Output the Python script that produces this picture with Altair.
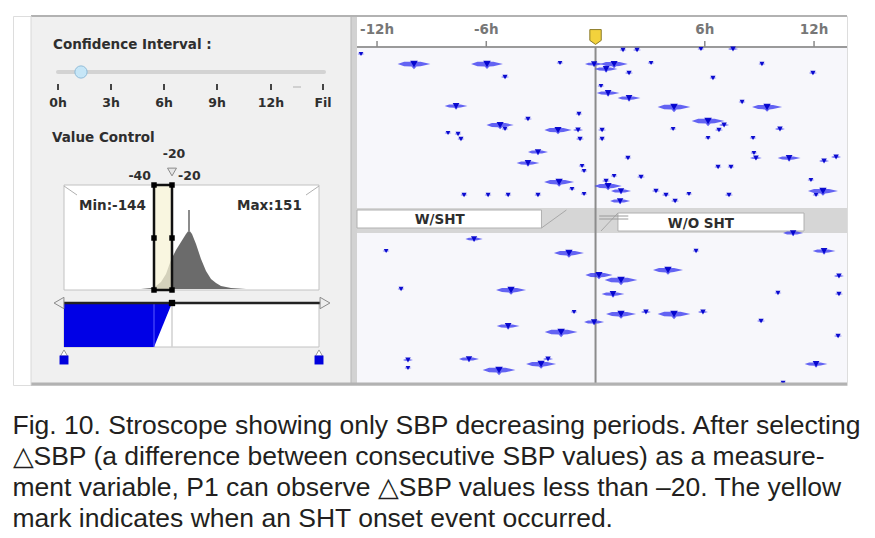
import altair as alt
import pandas as pd

# ---------------- data ----------------
# Stroscope glyphs: hour offset from SHT onset, lane position (px from top), glyph width (hours)
GLYPH_HOUR = [
    -9.97, -5.96, -4.97, -1.95, -0.08, -7.66, -0.91, -3.71, -5.24, -4.97,
    -2.06, -0.96, 0.36, -8.10, -7.55, -7.39, -0.85, 0.36, -3.16, -3.71,
    -0.74, -0.63, -2.00, -1.29, -0.63, -7.22, -5.90, -4.80, -3.16, -12.88,
    1.51, 2.28, 7.55, 5.79, 1.02, 0.58, 3.05, 1.84, 9.14, 11.94,
    6.45, 0.30, 0.69, 1.84, 8.05, 4.31, 9.42, 6.18, 7.06, 6.78,
    4.26, 10.13, 6.18, 8.65, 8.70, 1.78, 8.81, 10.63, 12.55, 13.21,
    6.73, 7.44, 1.02, 0.58, 2.50, 0.69, 1.40, 3.32, 3.87, 4.37,
    1.35, 5.13, 7.33, 11.83, 12.49, 12.11,
    -6.67, -11.50, -1.46, 0.19, 1.40, 3.98, 5.52, 12.55, 10.85, 13.37,
    -10.68, -4.64, 0.96, 10.02, 13.37, -1.18, 1.40, 4.31, 5.90, 2.77,
    -0.08, 9.09, -4.80, -1.89, 13.32, -10.30, -10.30, -6.95, -2.99, -2.61,
    -5.30, 12.11, 10.30,
]
GLYPH_ROW = [
    62, 62, 75, 61, 62, 104, 112, 117, 123, 127,
    128, 128, 128, 131, 132, 137, 137, 137, 150, 161,
    164, 169, 180, 187, 192, 193, 193, 193, 193, 52,
    48, 48, 47, 47, 62, 67, 61, 71, 62, 71,
    76, 84, 91, 96, 100, 105, 105, 119, 123, 128,
    127, 127, 136, 136, 151, 156, 156, 156, 159, 155,
    165, 165, 174, 179, 175, 184, 189, 189, 193, 199,
    199, 192, 193, 178, 189, 193,
    237, 249, 251, 273, 278, 268, 249, 249, 231, 274,
    287, 288, 292, 291, 292, 310, 312, 312, 310, 310,
    320, 319, 324, 330, 334, 358, 366, 357, 362, 357,
    368, 362, 381,
]
GLYPH_WIDTH = [
    1.8, 1.75, 0.45, 0.2, 1.0, 1.25, 0.3, 0.45, 1.5, 0.2,
    1.5, 0.55, 0.45, 0.2, 0.35, 0.35, 0.45, 0.35, 1.1, 1.25,
    0.2, 0.2, 1.65, 0.2, 0.2, 0.4, 0.3, 0.3, 0.4, 0.2,
    0.35, 0.45, 0.55, 0.2, 1.5, 1.25, 0.2, 0.45, 0.3, 0.45,
    0.35, 0.2, 1.25, 1.25, 0.3, 1.8, 1.65, 1.8, 0.55, 0.45,
    0.2, 0.55, 0.2, 0.2, 0.2, 0.4, 0.65, 1.25, 0.55, 0.55,
    0.4, 0.4, 0.2, 0.45, 0.45, 1.5, 1.1, 0.45, 0.45, 0.45,
    1.1, 0.2, 0.45, 0.2, 1.65, 0.2,
    0.95, 0.2, 1.65, 1.5, 1.8, 1.65, 0.3, 1.25, 1.1, 0.55,
    0.3, 1.65, 1.25, 0.3, 0.45, 0.2, 1.65, 1.8, 0.55, 0.55,
    1.1, 0.45, 1.25, 1.8, 0.45, 0.55, 0.2, 1.1, 1.65, 0.55,
    1.8, 1.25, 0.3,
]

HOUR_TICKS = [-12, -6, 6, 12]
HOUR_TICK_LABELS = ["-12h", "-6h", "6h", "12h"]

CI_TICK_LABELS = ["0h", "3h", "6h", "9h", "12h", "Fil"]

# Value-control histogram outline (left panel units)
HIST_X = [63, 140, 150, 155, 160, 165, 170, 175, 180, 185, 188, 191, 195, 200, 205, 210, 215, 220, 230, 245, 318]
HIST_Y = [287, 287, 286, 284, 280, 272, 258, 248, 240, 232, 228, 232, 242, 257, 269, 277, 281, 284, 286, 287, 287]

CAPTION = [
    "Fig. 10. Stroscope showing only SBP decreasing periods. After selecting",
    "\u25b3SBP (a difference between consecutive SBP values) as a measure-",
    "ment variable, P1 can observe \u25b3SBP values less than \u201320. The yellow",
    "mark indicates when an SHT onset event occurred.",
]

# ---------------- helpers ----------------
UI_FONT = "DejaVu Sans"
H_DOM = [-13.10, 13.81]
LX = alt.Scale(domain=[12, 356], nice=False, zero=False)
LY = alt.Scale(domain=[14, 383], nice=False, zero=False, reverse=True)
RX = alt.Scale(domain=H_DOM, nice=False, zero=False)
RY = alt.Scale(domain=[14, 383], nice=False, zero=False, reverse=True)


def rect(rows, xs, ys, **kw):
    df = pd.DataFrame(rows, columns=["x1", "x2", "y1", "y2"])
    return alt.Chart(df).mark_rect(**kw).encode(
        x=alt.X("x1:Q", scale=xs, axis=None), x2="x2:Q",
        y=alt.Y("y1:Q", scale=ys, axis=None), y2="y2:Q")


def rule(rows, xs, ys, **kw):
    df = pd.DataFrame(rows, columns=["x1", "x2", "y1", "y2"])
    return alt.Chart(df).mark_rule(**kw).encode(
        x=alt.X("x1:Q", scale=xs, axis=None), x2="x2:Q",
        y=alt.Y("y1:Q", scale=ys, axis=None), y2="y2:Q")


def text(rows, xs, ys, **kw):
    df = pd.DataFrame(rows, columns=["x", "y", "label"])
    return alt.Chart(df).mark_text(**kw).encode(
        x=alt.X("x:Q", scale=xs, axis=None),
        y=alt.Y("y:Q", scale=ys, axis=None),
        text="label:N")


def point(rows, xs, ys, **kw):
    df = pd.DataFrame(rows, columns=["x", "y"])
    return alt.Chart(df).mark_point(**kw).encode(
        x=alt.X("x:Q", scale=xs, axis=None),
        y=alt.Y("y:Q", scale=ys, axis=None))


ui_txt = dict(font=UI_FONT, fontWeight="bold", fontSize=13.5, color="#2e2e2e", baseline="middle")
ui_sm = {**ui_txt, "fontSize": 12.5}

# ---------------- left control panel ----------------
ci_x = [57, 110, 163, 216, 270, 322]
hist_df = pd.DataFrame({"x": HIST_X, "y": HIST_Y, "base": [287] * len(HIST_X)})
blue_df = pd.DataFrame({"x": [63, 153, 171], "y": [301, 301, 301], "y2": [345, 345, 301]})

left_layers = [
    rect([(30, 350, 14, 383)], LX, LY, color="#f0f0f0"),
    rect([(350, 356, 14, 383)], LX, LY, color="#d2d2d2"),
    rule([(350, 350, 14, 383)], LX, LY, color="#b5b5b5", strokeWidth=1),
    text([(52, 43, "Confidence Interval :")], LX, LY, align="left", **ui_txt),
    rule([(57, 323, 70, 70)], LX, LY, color="#d3d3d3", strokeWidth=4, strokeCap="round"),
    point([(80, 70)], LX, LY, shape="circle", size=150, filled=True, fill="#c6e6f7",
          stroke="#8fbcd9", strokeWidth=1, opacity=1),
    rule([(x, x, 82, 88) for x in ci_x], LX, LY, color="#444444", strokeWidth=2),
    rule([(292, 300, 85, 85)], LX, LY, color="#b0b0b0", strokeWidth=1),
    text([(x, 101, l) for x, l in zip(ci_x, CI_TICK_LABELS)], LX, LY, align="center", **ui_sm),
    text([(51, 136, "Value Control")], LX, LY, align="left", **ui_txt),
    text([(173, 152, "-20")], LX, LY, align="center", **ui_sm),
    text([(150, 174, "-40")], LX, LY, align="right", **ui_sm),
    text([(177, 174, "-20")], LX, LY, align="left", **ui_sm),
    point([(171, 170)], LX, LY, shape="triangle-down", size=80, filled=True, fill="#e6e6e6",
          stroke="#8a8a8a", strokeWidth=1, opacity=1),
    rect([(63, 318, 183, 288)], LX, LY, fill="white", stroke="#c2c2c2", strokeWidth=1),
    rule([(63, 76, 184, 193), (318, 305, 184, 193)], LX, LY, color="#b0b0b0", strokeWidth=1),
    text([(78, 204, "Min:-144"), (236, 204, "Max:151")], LX, LY, align="left", **ui_txt),
    alt.Chart(hist_df).mark_area(color="#6b6b6b", orient="vertical").encode(
        x=alt.X("x:Q", scale=LX, axis=None),
        y=alt.Y("y:Q", scale=LY, axis=None), y2="base:Q"),
    rule([(188, 188, 208, 230)], LX, LY, color="#8c8c8c", strokeWidth=2),
    rect([(153, 171, 183, 288)], LX, LY, fill="#f7f3d6", fillOpacity=0.75, stroke="#111111",
         strokeWidth=2.5),
    point([(153, 183), (171, 183), (153, 236), (171, 236), (153, 288), (171, 288)], LX, LY,
          shape="square", size=30, filled=True, color="#000000", opacity=1),
    rect([(63, 318, 301, 345)], LX, LY, fill="white", stroke="#c2c2c2", strokeWidth=1),
    alt.Chart(blue_df).mark_area(color="#0000e6", orient="vertical").encode(
        x=alt.X("x:Q", scale=LX, axis=None),
        y=alt.Y("y:Q", scale=LY, axis=None), y2="y2:Q"),
    rule([(153, 153, 301, 345)], LX, LY, color="#5a5aff", strokeWidth=1),
    rule([(171, 171, 301, 345)], LX, LY, color="#d0d0d0", strokeWidth=1.5),
    rule([(60, 322, 301, 301)], LX, LY, color="#222222", strokeWidth=2.5),
    point([(58, 301)], LX, LY, shape="triangle-left", size=130, filled=True, fill="#eeeeee",
          stroke="#8a8a8a", strokeWidth=1, opacity=1),
    point([(324, 301)], LX, LY, shape="triangle-right", size=130, filled=True, fill="#eeeeee",
          stroke="#8a8a8a", strokeWidth=1, opacity=1),
    point([(171, 301)], LX, LY, shape="square", size=40, filled=True, color="#000000", opacity=1),
    point([(63, 351), (318, 351)], LX, LY, shape="triangle-up", size=50, filled=True,
          fill="#ffffff", stroke="#9a9a9a", strokeWidth=1, opacity=1),
    point([(63, 358), (318, 358)], LX, LY, shape="square", size=80, filled=True,
          color="#0000dd", opacity=1),
    rule([(30, 356, 382, 382)], LX, LY, color="#b2b2b2", strokeWidth=3),
    rule([(30, 356, 14, 14)], LX, LY, color="#b2b2b2", strokeWidth=2),
    rule([(30, 30, 14, 383)], LX, LY, color="#d8d8d8", strokeWidth=1),
]
left = alt.layer(*left_layers).properties(width=344, height=369)

# ---------------- right stroscope panel ----------------
a, b = H_DOM
px_per_hour = 490 / (b - a)
g = pd.DataFrame({"hour": GLYPH_HOUR, "row": GLYPH_ROW, "w": GLYPH_WIDTH})
g["outer"] = ((g["w"] * px_per_hour).clip(lower=7)) ** 2
g["inner"] = 18 + 22 * g["w"]

GLYPH_PATH = ("M-1,0 L-0.6,-0.14 L0.4,-0.14 L1,0 L0.4,0.14 L0.15,0.16 L0,0.32 "
              "L-0.15,0.16 L-0.6,0.14 Z")
MARKER_PATH = "M-1,-1.3 L1,-1.3 L1,0.6 L0,1.3 L-1,0.6 Z"

right_layers = [
    rect([(a, b, 45, 383)], RX, RY, color="#f7f7fb"),
    rect([(a, b, 14, 45)], RX, RY, color="#ffffff"),
    rule([(a, b, 45, 45)], RX, RY, color="#9a9a9a", strokeWidth=2),
    rule([(h, h, 39, 45) for h in HOUR_TICKS], RX, RY, color="#8a8a8a", strokeWidth=1.5),
    text([(h, 28, l) for h, l in zip(HOUR_TICKS, HOUR_TICK_LABELS)], RX, RY, align="center",
         **{**ui_txt, "color": "#777777"}),
    rect([(a, b, 206, 231)], RX, RY, color="#d6d6d6"),
    rect([(a, -2.97, 208, 226)], RX, RY, fill="#ffffff", stroke="#b0b0b0", strokeWidth=1),
    rect([(1.23, 11.45, 211, 229)], RX, RY, fill="#ffffff", stroke="#b0b0b0", strokeWidth=1),
    rule([(-2.97, -1.6, 226, 208), (0.3, 1.23, 229, 211)], RX, RY, color="#a8a8a8", strokeWidth=1),
    rule([(0.2, 1.8, 214, 214), (0.2, 1.8, 217, 217)], RX, RY, color="#9a9a9a", strokeWidth=1),
    text([(-8.56, 218, "W/SHT"), (5.79, 222, "W/O SHT")], RX, RY, align="center", **ui_txt),
    rule([(0, 0, 45, 383)], RX, RY, color="#8c8c8c", strokeWidth=2),
    alt.Chart(g).mark_point(shape=GLYPH_PATH, filled=True, color="#2a2af0", opacity=0.72).encode(
        x=alt.X("hour:Q", scale=RX, axis=None),
        y=alt.Y("row:Q", scale=RY, axis=None),
        size=alt.Size("outer:Q", scale=None, legend=None)),
    alt.Chart(g).mark_point(shape="triangle-down", filled=True, color="#0000cc", opacity=0.95).encode(
        x=alt.X("hour:Q", scale=RX, axis=None),
        y=alt.Y("row:Q", scale=RY, axis=None),
        size=alt.Size("inner:Q", scale=None, legend=None)),
    point([(0, 35)], RX, RY, shape=MARKER_PATH, size=130, filled=True, fill="#f3d23c",
          stroke="#8a7a2a", strokeWidth=1, opacity=1),
    rule([(a, b, 14, 14)], RX, RY, color="#b2b2b2", strokeWidth=2),
    rule([(a, b, 382, 382)], RX, RY, color="#b2b2b2", strokeWidth=3),
]
right = alt.layer(*right_layers).properties(width=490, height=369)

chart = alt.hconcat(
    left, right, spacing=0, bounds="flush",
    title=alt.TitleParams(
        text=CAPTION, orient="bottom", anchor="start", font="Liberation Sans",
        fontSize=26.5, fontWeight="normal", color="#231f20", lineHeight=31, offset=26),
).properties(
    padding={"left": 4, "top": 6, "right": 2, "bottom": 2},
).configure_view(stroke=None).configure(background="#ffffff")

chart.save("out.html", embed_options={"renderer": "svg", "actions": False})
